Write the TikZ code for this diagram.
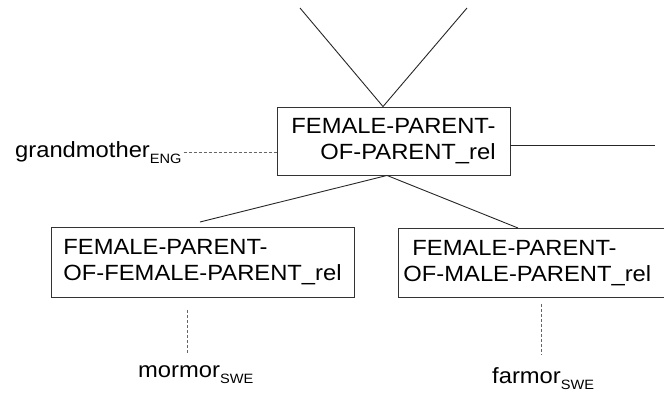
\documentclass[tikz,border=0pt]{standalone}
\usepackage{fontspec}
\setmainfont{Liberation Sans}[FakeStretch=1.08]
\usetikzlibrary{positioning}
\newcommand{\langsub}[1]{\raisebox{-6pt}{\fontsize{13.5}{14}\selectfont #1}}

\begin{document}
\begin{tikzpicture}[x=1pt,y=-1pt]
  \tikzstyle{relbox}=[draw=black!80,line width=0.9pt,inner xsep=0pt,inner ysep=0pt,
                      font=\fontsize{22}{26}\selectfont]
  \tikzstyle{word}=[inner sep=0pt,font=\fontsize{22}{24}\selectfont]
  \tikzstyle{link}=[black!85,line width=0.9pt]
  \tikzstyle{gloss}=[black!60,line width=0.8pt,dash pattern=on 3pt off 2pt]
  \clip (0,0) rectangle (664,394);

  % relation boxes
  \node[relbox,align=right,minimum width=233pt,minimum height=68pt] (fpop)  at (393.5,141) {FEMALE-PARENT-\\OF-PARENT\_rel};
  \node[relbox,align=left,minimum width=303pt,minimum height=70pt]  (fpofp) at (202.5,262) {FEMALE-PARENT-\\OF-FEMALE-PARENT\_rel};
  \node[relbox,text width=320pt,align=left,anchor=north west,inner xsep=5pt,minimum height=69pt]
                                                                     (fpomp) at (398,228)   {\hspace*{9pt}FEMALE-PARENT-\\OF-MALE-PARENT\_rel};

  % words
  \node[word,anchor=base west] (grandmother) at (15,157)  {grandmother\langsub{ENG}};
  \node[word,anchor=base west] (mormor)      at (138,377) {mormor\langsub{SWE}};
  \node[word,anchor=base west] (farmor)      at (492,383) {farmor\langsub{SWE}};

  \coordinate (upl)      at (300,8);
  \coordinate (upr)      at (467,8);
  \coordinate (rightend) at (655,145);
  \coordinate (ljoin)    at (200,222);
  \coordinate (rjoin)    at (518,228);

  \draw[link] (upl) -- ([xshift=-10.5pt]fpop.north) -- (upr);
  \draw[link] ([yshift=-4pt]fpop.east) -- (rightend);
  \draw[link] (ljoin) -- ([xshift=-6.5pt]fpop.south) -- (rjoin);

  \draw[gloss,shorten <=2pt] (grandmother.east) -- (grandmother.east -| fpop.west);
  \draw[gloss,shorten <=13pt,shorten >=10pt] ([xshift=-15.5pt]fpofp.south) -- ([xshift=-15.5pt]fpofp.south |- mormor.north);
  \draw[gloss,shorten <=6pt,shorten >=12pt] ([xshift=143pt]fpomp.south west) -- ([xshift=143pt]fpomp.south west |- farmor.north);
\end{tikzpicture}
\end{document}
